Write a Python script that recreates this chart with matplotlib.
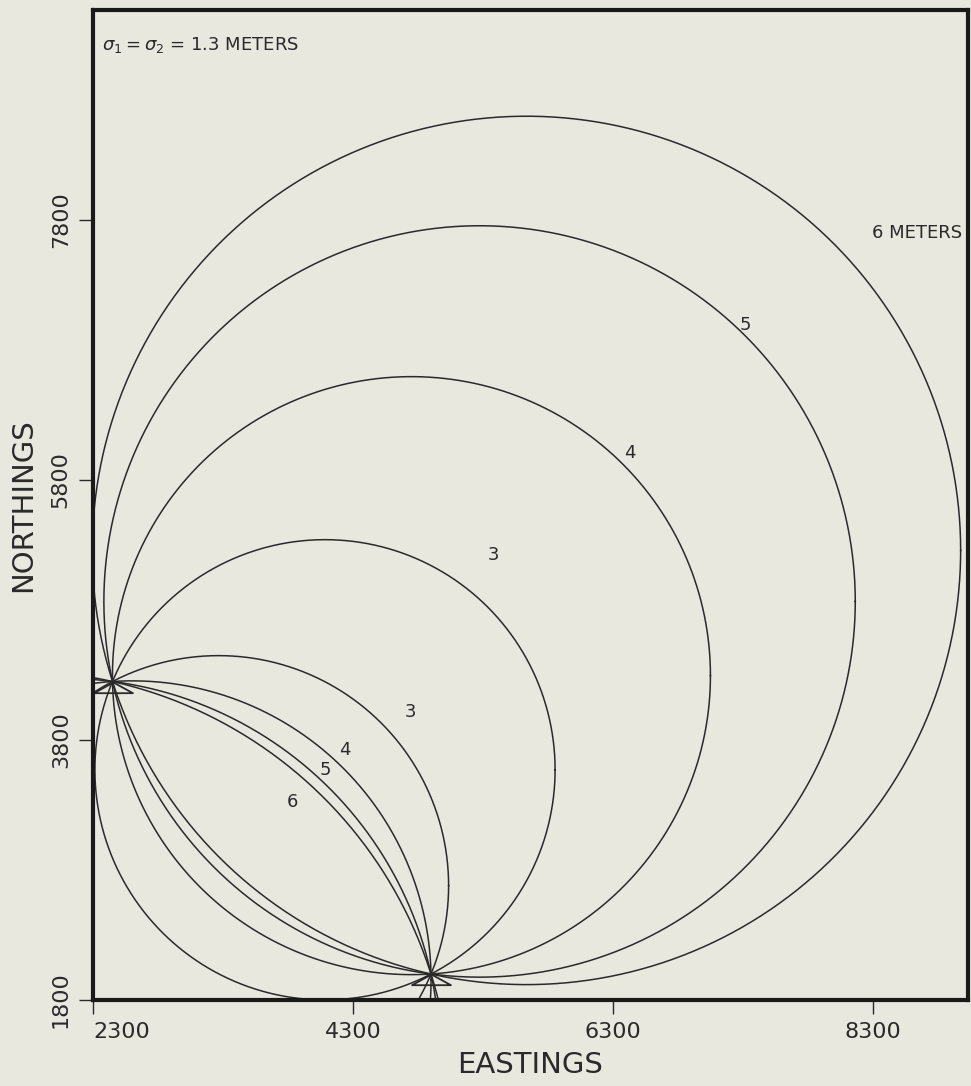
import numpy as np
import matplotlib
matplotlib.use("Agg")
import matplotlib.pyplot as plt
from matplotlib.path import Path

# ---- data ----
station_e = [2450, 4900]          # eastings of the two range stations
station_n = [4250, 2000]          # northings of the two range stations
levels = [3, 4, 5, 6]             # contour values (meters)
radii = [1770, 2300, 2890, 3340]  # radius of each contour circle (map units)
xticks = [2300, 4300, 6300, 8300]
yticks = [1800, 3800, 5800, 7800]

paper = "#e8e8df"
ink = "#2a2a2a"

fig = plt.figure(figsize=(9.71, 10.86), dpi=100, facecolor=paper)
ax = fig.add_axes([93/971, 1-1000/1086, 875/971, 990/1086])
ax.set_facecolor(paper)

A = np.array([station_e[0], station_n[0]], float)
B = np.array([station_e[1], station_n[1]], float)
M = (A + B) / 2
d = B - A
half = np.linalg.norm(d) / 2
u = np.array([d[1], -d[0]]) / np.linalg.norm(d)   # perpendicular
if u[0] < 0:
    u = -u
th = np.linspace(0, 2*np.pi, 1000)
for r in radii:
    t = np.sqrt(r**2 - half**2)
    for sgn in (1, -1):
        c = M + sgn * t * u
        ax.plot(c[0] + r*np.cos(th), c[1] + r*np.sin(th), color=ink, lw=1.1)

tri = Path([(0, 0), (-1.0, -0.55), (1.0, -0.55), (0, 0)],
           [Path.MOVETO, Path.LINETO, Path.LINETO, Path.CLOSEPOLY])
ax.plot(station_e, station_n, ls="none", marker=tri, ms=28, mfc="none",
        mec=ink, mew=1.3)

ax.set_xlim(2300, 2300 + 875/0.13)
ax.set_ylim(1800, 1800 + 990/0.13)
ax.set_aspect("equal", adjustable="box")

fs = 16
ax.set_xticks(xticks)
ax.set_yticks(yticks)
ax.set_xticklabels([str(v) for v in xticks], fontsize=fs, color=ink)
ax.set_yticklabels([str(v) for v in yticks], fontsize=fs, color=ink,
                   rotation=90, va="center")
ax.get_xticklabels()[0].set_ha("left")
ax.tick_params(axis="both", direction="out", length=10, width=1.0,
               color=ink, pad=6)
ax.set_xlabel("EASTINGS", fontsize=21, color=ink, labelpad=6)
ax.set_ylabel("NORTHINGS", fontsize=21, color=ink, labelpad=10)
for s in ax.spines.values():
    s.set_linewidth(3)
    s.set_color("#1a1a1a")

tk = dict(color=ink, fontsize=13, ha="center", va="center")
ax.text(0.01, 0.965, r"$\sigma_1 = \sigma_2$ = 1.3 METERS",
        transform=ax.transAxes, fontsize=13, color=ink, ha="left", va="center")
ax.text(8290, 7700, "6 METERS", color=ink, fontsize=13, ha="left", va="center")
ax.text(7315, 6992, "5", **tk)
ax.text(6431, 6008, "4", **tk)
ax.text(5377, 5223, "3", **tk)
ax.text(4738, 4015, "3", **tk)
ax.text(4238, 3723, "4", **tk)
ax.text(4085, 3569, "5", **tk)
ax.text(3831, 3323, "6", **tk)

fig.savefig("out.png", dpi=100, facecolor=paper)
